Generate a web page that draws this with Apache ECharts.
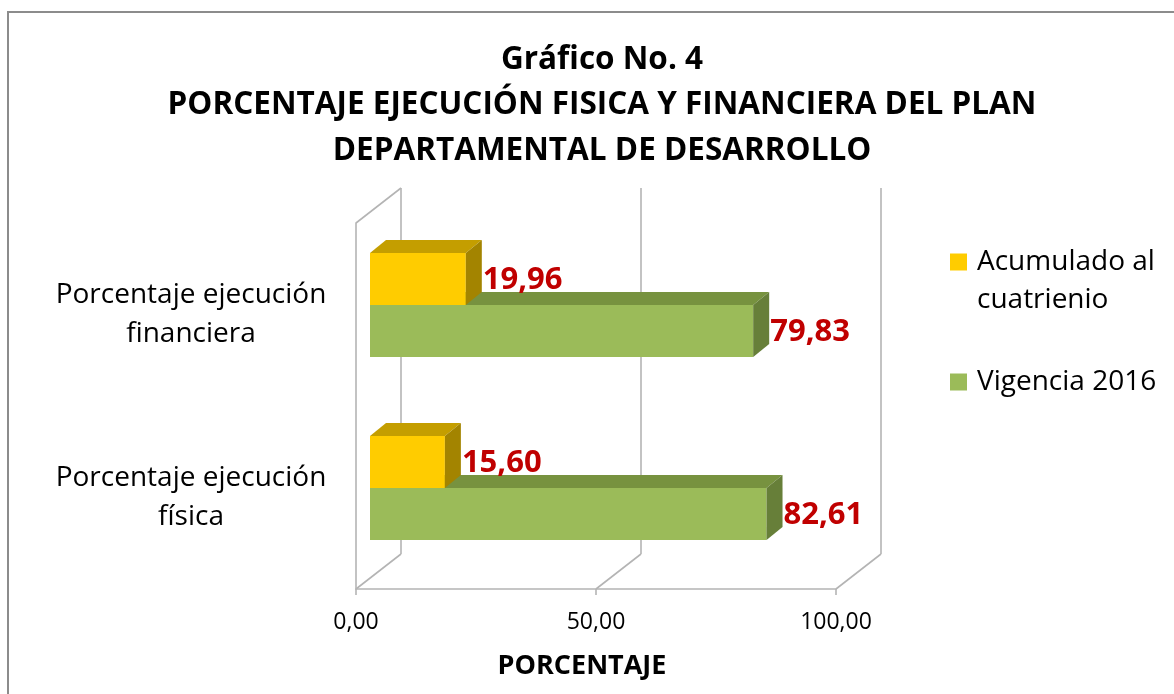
<!DOCTYPE html>
<html>
<head>
<meta charset="utf-8">
<script src="https://cdn.jsdelivr.net/npm/echarts@6/dist/echarts.min.js"></script>
<style>
  html, body { margin: 0; padding: 0; background: #fff; }
  #chart { width: 1174px; height: 694px; }
</style>
</head>
<body>
<div id="chart"></div>
<script>
var categories = ['Porcentaje ejecución física', 'Porcentaje ejecución financiera'];
var acumulado = [15.60, 19.96];   // Acumulado al cuatrienio
var vigencia = [82.61, 79.83];    // Vigencia 2016
var xTicks = [0, 50, 100];

var FRAME_DX = 45, FRAME_DY = -35;   // profundidad de las paredes
var BAR_SHIFT_X = 14, BAR_SHIFT_Y = -9.5; // barras a media profundidad
var BOX_DX = 16, BOX_DY = -13;       // grosor 3D de cada barra

function fmt(v) { return v.toFixed(2).replace('.', ','); }

function renderFrame(params, api) {
  var cs = params.coordSys;
  var x = api.coord([api.value(0), 0])[0];
  var top = cs.y, bottom = cs.y + cs.height;
  var line = { stroke: '#B4B4B4', lineWidth: 1.6 };
  var children = [
    { type: 'line', shape: { x1: x, y1: bottom, x2: x + FRAME_DX, y2: bottom + FRAME_DY }, style: line },
    { type: 'line', shape: { x1: x + FRAME_DX, y1: bottom + FRAME_DY, x2: x + FRAME_DX, y2: top + FRAME_DY }, style: line }
  ];
  if (api.value(0) === 0) {
    children.push({ type: 'line', shape: { x1: x, y1: top, x2: x + FRAME_DX, y2: top + FRAME_DY }, style: line });
  }
  return { type: 'group', children: children };
}

function boxRenderer(upper, colors) {
  return function (params, api) {
    var cat = api.value(1);
    var v = api.value(0);
    var base = api.coord([0, cat]);
    var end = api.coord([v, cat]);
    var h = api.size([0, 1])[1] * 0.284;
    var yBase = base[1] + BAR_SHIFT_Y;
    var y0 = upper ? yBase - h : yBase;
    var y1 = upper ? yBase : yBase + h;
    var x0 = base[0] + BAR_SHIFT_X;
    var x1 = end[0] + BAR_SHIFT_X;
    return {
      type: 'group',
      children: [
        { type: 'rect', shape: { x: x0, y: y0, width: x1 - x0, height: y1 - y0 }, style: { fill: colors[0] } },
        { type: 'polygon', shape: { points: [[x0, y0], [x1, y0], [x1 + BOX_DX, y0 + BOX_DY], [x0 + BOX_DX, y0 + BOX_DY]] }, style: { fill: colors[1] } },
        { type: 'polygon', shape: { points: [[x1, y0], [x1 + BOX_DX, y0 + BOX_DY], [x1 + BOX_DX, y1 + BOX_DY], [x1, y1]] }, style: { fill: colors[2] } },
        { type: 'text', x: x1 + BOX_DX + 1, y: (y0 + y1) / 2 + 1,
          style: { text: fmt(v), fill: '#C00000', font: 'bold 31px "Open Sans"', verticalAlign: 'middle', align: 'left' } }
      ]
    };
  };
}

var chart = echarts.init(document.getElementById('chart'));
chart.setOption({
  animation: false,
  textStyle: { fontFamily: 'Open Sans' },
  graphic: [{
    type: 'rect', shape: { x: 8, y: 12, width: 1400, height: 900 },
    style: { fill: 'none', stroke: '#8C8C8C', lineWidth: 2 }, silent: true
  }],
  title: {
    text: 'Gráfico No. 4\nPORCENTAJE EJECUCIÓN FISICA Y FINANCIERA DEL PLAN\nDEPARTAMENTAL DE DESARROLLO',
    left: 597, top: 32, textAlign: 'center',
    textStyle: { fontSize: 31.5, fontWeight: 'bold', color: '#000', lineHeight: 45.5, fontFamily: 'Open Sans' }
  },
  legend: {
    orient: 'vertical', left: 950, top: 205, padding: 0,
    itemWidth: 17, itemHeight: 17, itemGap: 44, icon: 'rect',
    textStyle: { fontSize: 28, color: '#000', lineHeight: 38, padding: [0, 0, 0, 5] },
    formatter: function (name) { return name.indexOf('\n') >= 0 ? '\n' + name : name; },
    data: ['Acumulado al\ncuatrienio', 'Vigencia 2016']
  },
  grid: { left: 356, top: 223, width: 480, height: 366 },
  xAxis: {
    type: 'value', min: 0, max: 100, interval: 50,
    axisLine: { show: true, lineStyle: { color: '#B4B4B4', width: 1.6 } },
    axisTick: { show: true, length: 6, lineStyle: { color: '#B4B4B4', width: 1.6 } },
    splitLine: { show: false },
    axisLabel: { formatter: fmt, fontSize: 23, color: '#000', lineHeight: 26, margin: 20 },
    name: 'PORCENTAJE', nameLocation: 'middle', nameGap: 62,
    nameTextStyle: { fontSize: 27, fontWeight: 'bold', color: '#000', lineHeight: 30, padding: [0, 28, 0, 0] }
  },
  yAxis: {
    type: 'category', data: categories,
    axisLine: { show: true, lineStyle: { color: '#B4B4B4', width: 1.6 } },
    axisTick: { show: false },
    axisLabel: {
      align: 'center', margin: 165, fontSize: 28, lineHeight: 39, color: '#000',
      padding: [6, 0, 0, 0],
      formatter: function (s) { var i = s.lastIndexOf(' '); return s.slice(0, i) + '\n' + s.slice(i + 1); }
    }
  },
  series: [
    { name: 'frame', type: 'custom', renderItem: renderFrame, clip: false, silent: true,
      data: xTicks.map(function (t) { return [t, 0]; }) },
    { name: 'Vigencia 2016', type: 'custom', clip: false, itemStyle: { color: '#9BBB59' },
      renderItem: boxRenderer(false, ['#9BBB59', '#77923F', '#677F39']),
      data: vigencia.map(function (v, i) { return [v, i]; }) },
    { name: 'Acumulado al\ncuatrienio', type: 'custom', clip: false, itemStyle: { color: '#FFCC00' },
      renderItem: boxRenderer(true, ['#FFCC00', '#C49E00', '#A38400']),
      data: acumulado.map(function (v, i) { return [v, i]; }) }
  ]
});
</script>
</body>
</html>
